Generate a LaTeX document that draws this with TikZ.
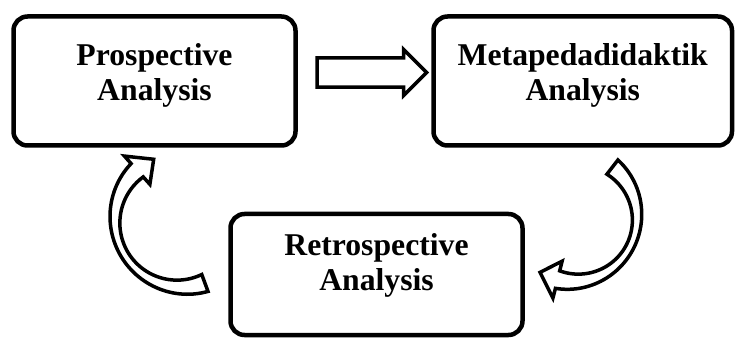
\documentclass[tikz,border=0pt]{standalone}
\usepackage{fontspec}
\setmainfont{Liberation Serif}
\usepackage{tikz}
\usetikzlibrary{calc,shapes.arrows}

% hollow bent arrow: centre, mid radius, start angle, end angle (clockwise)
\newcommand{\bentarrow}[4]{%
  \draw[hollow,shift={(#1)}]
    plot[smooth,variable=\t,domain=0:1,samples=30]
      ({(#2+9-5*sin(180*\t))*cos(#3+(#4-#3)*\t)},{(#2+9-5*sin(180*\t))*sin(#3+(#4-#3)*\t)})
    -- ({#4}:{#2+19}) -- ({#4-17}:{#2}) -- ({#4}:{#2-19})
    -- plot[smooth,variable=\t,domain=0:1,samples=30]
      ({(#2-9+5*sin(180*\t))*cos(#4+(#3-#4)*\t)},{(#2-9+5*sin(180*\t))*sin(#4+(#3-#4)*\t)})
    -- cycle;}

\begin{document}
\begin{tikzpicture}[x=1pt,y=1pt,
  box/.style={draw,line width=4.5pt,rounded corners=14pt,align=center,
    font=\fontsize{31.7}{35}\selectfont\bfseries,inner sep=0pt,
    text depth=18pt},
  hollow/.style={draw,line width=3.5pt,fill=white}]
  \useasboundingbox (0,0) rectangle (735,340);

  % Boxes
  \node[box,minimum width=282pt,minimum height=129pt] (pro) at (154.5,259) {Prospective\\Analysis};
  \node[box,minimum width=298.5pt,minimum height=129pt] (meta) at (582.75,259) {Metapedadidaktik\\Analysis};
  \node[box,minimum width=292pt,minimum height=121pt,text depth=25pt] (retro) at (376.5,65.5) {Retrospective\\Analysis};

  % Arrows
  \node[hollow,single arrow,inner sep=0pt,inner ysep=10.5pt,minimum width=46pt,
    minimum height=109.5pt,yshift=8.5pt] (fwd) at ($(pro.east)!0.5!(meta.west)$) {};
  \coordinate (rc) at (573,122.5);
  \coordinate (lc) at (182,120);
  \bentarrow{rc}{64}{52}{-104}
  \bentarrow{lc}{67}{290}{132}
\end{tikzpicture}
\end{document}
